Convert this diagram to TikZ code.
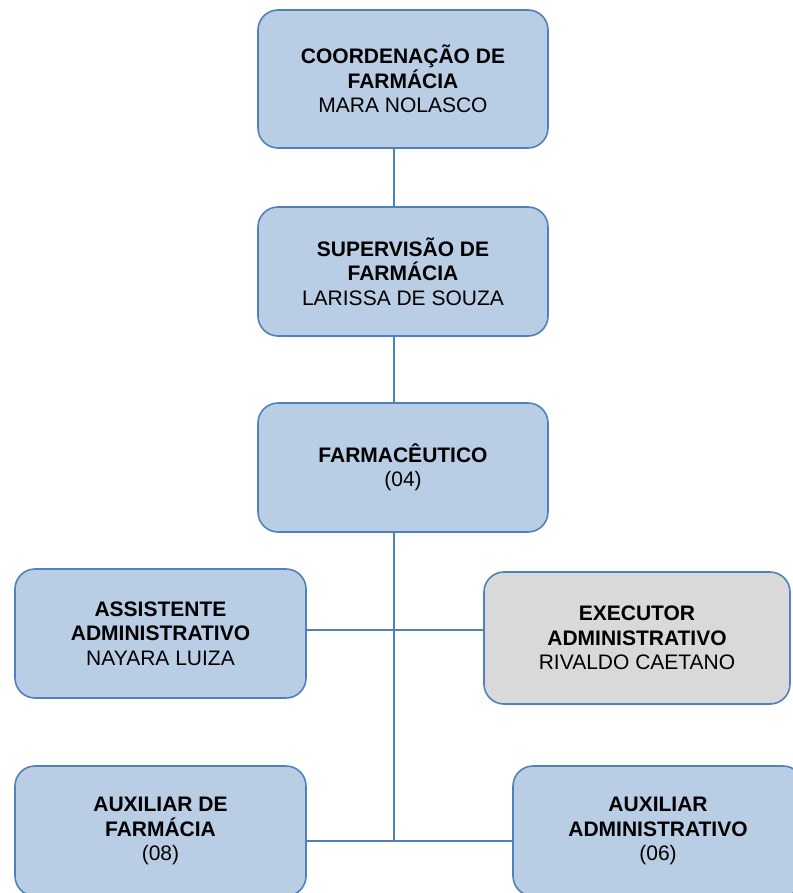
\documentclass[tikz,border=0pt]{standalone}
\usepackage{fontspec}
\setmainfont{Liberation Sans}
\usetikzlibrary{positioning}
\definecolor{boxblue}{RGB}{185,205,229}
\definecolor{boxgray}{RGB}{217,217,217}
\definecolor{lineblue}{RGB}{79,129,189}
\tikzstyle{orgnode}=[align=center, rounded corners=20pt, draw=lineblue, line width=1.6pt, text=black, font=\fontsize{21}{24.5}\selectfont]
\tikzstyle{unit}=[orgnode, fill=boxblue, minimum width=290pt, minimum height=129pt]
\tikzstyle{unitgray}=[orgnode, fill=boxgray, minimum width=306pt, minimum height=132pt]
\tikzstyle{connect}=[line width=1.6pt, lineblue]

\begin{document}
\begin{tikzpicture}[x=1pt,y=-1pt]
\useasboundingbox (0,0) rectangle (792,893);

\coordinate (trunk) at (394,0);
\coordinate (mid) at (394,630);
\coordinate (bus) at (394,841);

\node[unit, minimum height=138pt] (coord) at (403,79) {\textbf{COORDENAÇÃO DE}\\\textbf{FARMÁCIA}\\MARA NOLASCO};
\node[unit] (superv) at (403,271.5) {\textbf{SUPERVISÃO DE}\\\textbf{FARMÁCIA}\\LARISSA DE SOUZA};
\node[unit] (farmac) at (403,467.5) {\textbf{FARMACÊUTICO}\\(04)};

\node[unit, minimum width=291pt] (assist) at (160.5,633.5) {\textbf{ASSISTENTE}\\\textbf{ADMINISTRATIVO}\\NAYARA LUIZA};
\node[unitgray] (exec) at (637,638) {\textbf{EXECUTOR}\\\textbf{ADMINISTRATIVO}\\RIVALDO CAETANO};

\node[unit, minimum width=291pt, minimum height=130pt] (auxfarm) at (160.5,831) {\textbf{AUXILIAR DE}\\\textbf{FARMÁCIA}\\(08)};
\node[unit, minimum width=290pt, minimum height=130pt] (auxadm) at (658,831) {\textbf{AUXILIAR}\\\textbf{ADMINISTRATIVO}\\(06)};

\begin{scope}[connect]
    \draw (coord.south -| trunk) -- (superv.north -| trunk);
    \draw (superv.south -| trunk) -- (farmac.north -| trunk);
    \draw (farmac.south -| trunk) -- (bus);
    \draw (assist.east |- mid) -- (exec.west |- mid);
    \draw (auxfarm.east |- bus) -- (auxadm.west |- bus);
\end{scope}

\end{tikzpicture}
\end{document}
